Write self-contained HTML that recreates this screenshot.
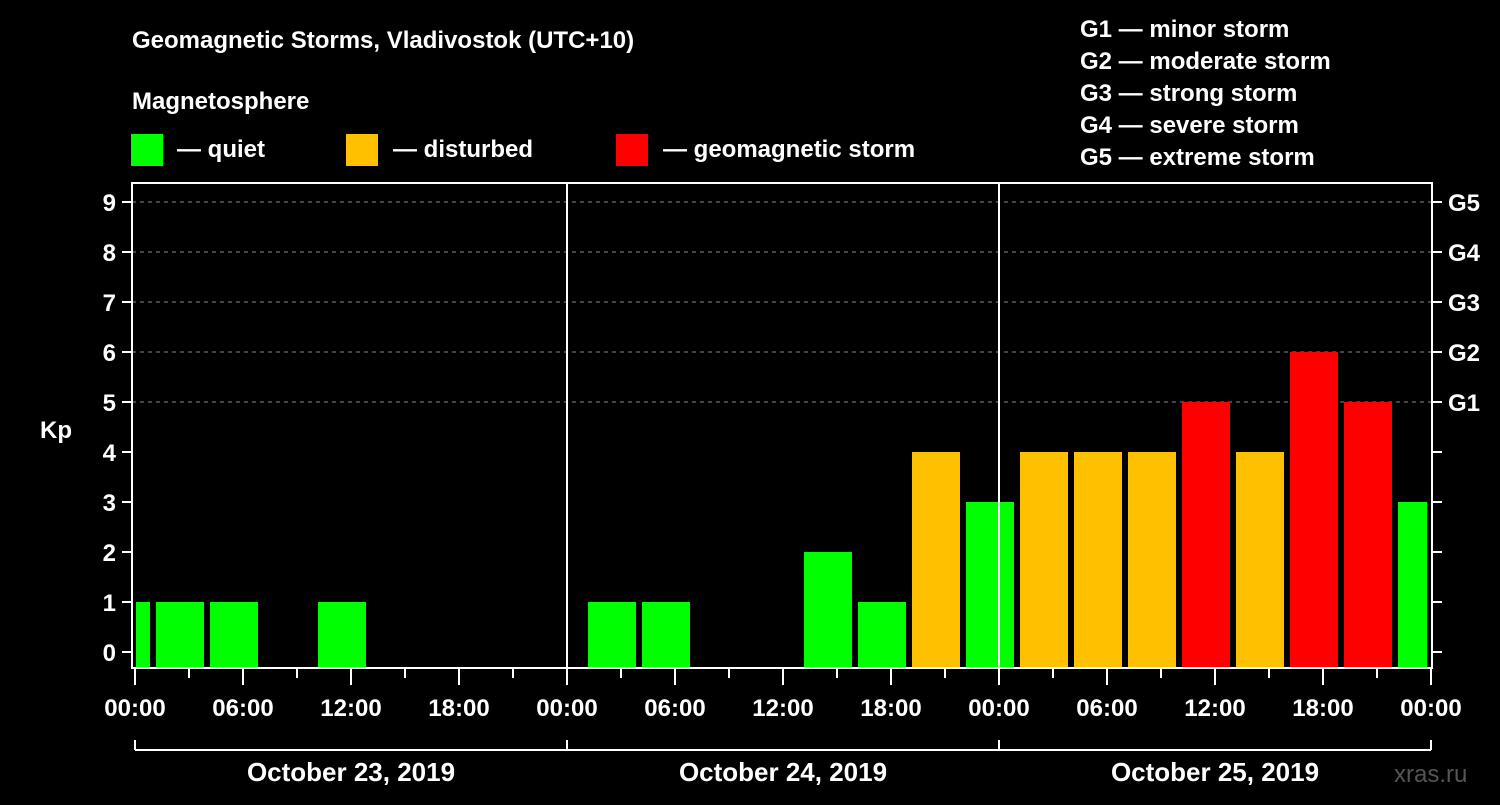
<!DOCTYPE html>
<html><head><meta charset="utf-8"><style>
body{margin:0;background:#000;width:1500px;height:800px;overflow:hidden}
text{font-family:"Liberation Sans",sans-serif;font-weight:bold;fill:#fff}
</style></head><body>
<svg id="chart" width="1500" height="800" xmlns="http://www.w3.org/2000/svg">
<rect width="1500" height="800" fill="#000"/>
<text x="132" y="48" font-size="24">Geomagnetic Storms, Vladivostok (UTC+10)</text>
<text x="132" y="109" font-size="24">Magnetosphere</text>
<g>
<rect x="131" y="134" width="32" height="32" fill="#00ff00"/>
<text x="177" y="157" font-size="24">— quiet</text>
<rect x="346" y="134" width="32" height="32" fill="#ffc000"/>
<text x="393" y="157" font-size="24">— disturbed</text>
<rect x="616" y="134" width="32" height="32" fill="#ff0000"/>
<text x="663" y="157" font-size="24">— geomagnetic storm</text>
</g>
<g font-size="24">
<text x="1080" y="37">G1 — minor storm</text>
<text x="1080" y="69">G2 — moderate storm</text>
<text x="1080" y="101">G3 — strong storm</text>
<text x="1080" y="133">G4 — severe storm</text>
<text x="1080" y="165">G5 — extreme storm</text>
</g>
<text x="40" y="438" font-size="24">Kp</text>
<text x="1394" y="782" font-size="24" fill="#555" style="fill:#555;font-weight:normal">xras.ru</text>
<g id="plot"></g>
</svg>
<script>
const kpValues=[1,1,1,0,1,0,0,0,0,1,1,0,0,2,1,4,3,4,4,4,5,4,6,5,3];
const startHour=-2;
const dayLabels=["October 23, 2019","October 24, 2019","October 25, 2019"];
const gLabels=["G1","G2","G3","G4","G5"];
const hourLabels=["00:00","06:00","12:00","18:00"];

const X0=135,PXH=18,L=132,R=1432,T=183,B=668;
const y=v=>652-v*50;
const x=h=>X0+h*PXH;
const ns="http://www.w3.org/2000/svg";
const g=document.getElementById('plot');
function mk(tag,attrs,parent){const e=document.createElementNS(ns,tag);for(const k in attrs)e.setAttribute(k,attrs[k]);(parent||g).appendChild(e);return e;}
// grid
for(let v=5;v<=9;v++){const l=mk('line',{x1:L,x2:R,y1:y(v),y2:y(v),stroke:'#888','stroke-dasharray':'4,4','stroke-width':1});
}
// bars
kpValues.forEach((v,i)=>{if(v<=0)return;const h0=startHour+i*3;
let x1=Math.max(x(h0)+3,L+4),x2=Math.min(x(h0+3)-3,R-5);
const c=v>=5?'#ff0000':v>=4?'#ffc000':'#00ff00';
const r=mk('rect',{x:x1,y:y(v),width:x2-x1,height:B-y(v),fill:c});
});
// day separators
[1,2].forEach(d=>{const l=mk('line',{x1:x(d*24),x2:x(d*24),y1:T,y2:B,stroke:'#fff','stroke-width':2});
});
// frame
const f=mk('rect',{x:L,y:T,width:R-L,height:B-T,fill:'none',stroke:'#fff','stroke-width':2});

// y ticks
for(let v=0;v<=9;v++){mk('line',{x1:L-10,x2:L,y1:y(v),y2:y(v),stroke:'#fff','stroke-width':2});
mk('line',{x1:R,x2:R+10,y1:y(v),y2:y(v),stroke:'#fff','stroke-width':2});
const t=mk('text',{x:L-16,y:y(v)+9,'font-size':24,'text-anchor':'end'});t.textContent=v;
}
gLabels.forEach((s,i)=>{const t=mk('text',{x:R+16,y:y(5+i)+9,'font-size':24});t.textContent=s;
});
// x ticks
for(let h=0;h<=72;h+=3){const maj=h%6===0;mk('line',{x1:x(h),x2:x(h),y1:B,y2:B+(maj?17:10),stroke:'#fff','stroke-width':2});}
for(let d=0;d<=3;d++)hourLabels.forEach((s,i)=>{if(d===3&&i>0)return;const t=mk('text',{x:x(d*24+i*6),y:716,'font-size':24,'text-anchor':'middle'});t.textContent=s;
});
// date brackets
mk('line',{x1:x(0),x2:x(72),y1:750,y2:750,stroke:'#fff','stroke-width':2});
for(let d=0;d<=3;d++)mk('line',{x1:x(d*24),x2:x(d*24),y1:740,y2:750,stroke:'#fff','stroke-width':2});
dayLabels.forEach((s,d)=>{const t=mk('text',{x:x(d*24+12),y:781,'font-size':26,'text-anchor':'middle'});t.textContent=s;
});
</script>
</body></html>
